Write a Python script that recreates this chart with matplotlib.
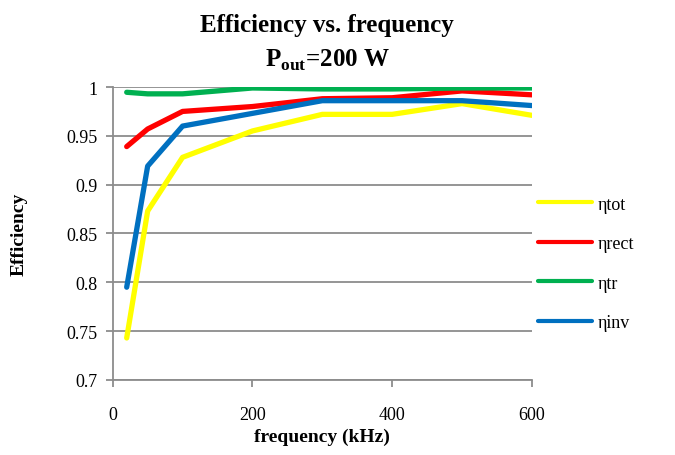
import matplotlib
matplotlib.use("Agg")
import matplotlib.pyplot as plt

# frequency points (kHz)
freq = [20, 50, 100, 200, 300, 400, 500, 600]

eta_tot = [0.743, 0.873, 0.928, 0.955, 0.972, 0.972, 0.983, 0.971]
eta_rect = [0.939, 0.957, 0.975, 0.980, 0.988, 0.989, 0.996, 0.992]
eta_tr = [0.9946, 0.993, 0.993, 0.999, 0.998, 0.998, 0.999, 0.999]
eta_inv = [0.795, 0.919, 0.960, 0.973, 0.986, 0.986, 0.986, 0.981]

labels = ["\u03b7tot", "\u03b7rect", "\u03b7tr", "\u03b7inv"]
colors = ["#FFFF00", "#FF0000", "#00B050", "#0070C0"]

plt.rcParams['font.family'] = ['Liberation Serif', 'DejaVu Serif']
plt.rcParams['mathtext.fontset'] = 'custom'
plt.rcParams['mathtext.rm'] = 'Liberation Serif'
plt.rcParams['mathtext.bf'] = 'Liberation Serif:bold'

fig = plt.figure(figsize=(6.75, 4.56), dpi=100)
ax = fig.add_axes([0.167, 0.1645, 0.621, 0.6425])

series = [eta_tot, eta_rect, eta_tr, eta_inv]
for vals, lab, col in zip(series, labels, colors):
    ax.plot(freq, vals, color=col, linewidth=3.8, label=lab, solid_capstyle='round')

ax.set_xlim(0, 600)
ax.set_ylim(0.7, 1.0)
ax.set_xticks([0, 200, 400, 600])
ax.set_yticks([0.7, 0.75, 0.8, 0.85, 0.9, 0.95, 1.0])
ax.set_yticklabels(["0.7", "0.75", "0.8", "0.85", "0.9", "0.95", "1"])
ax.yaxis.grid(True, color='#8c8c8c', linewidth=1.3)
ax.set_axisbelow(True)

for s in ['top', 'right']:
    ax.spines[s].set_visible(False)
for s in ['left', 'bottom']:
    ax.spines[s].set_color('#8c8c8c')
    ax.spines[s].set_linewidth(1.3)
ax.tick_params(axis='both', colors='#8c8c8c', length=5, width=1.3, labelsize=13,
               labelcolor='black')
ax.tick_params(axis='x', pad=14)
ax.tick_params(axis='y', pad=6)

ax.set_xlabel("frequency (kHz)", fontsize=14, fontweight='bold', labelpad=3)
ax.set_ylabel("Efficiency", fontsize=14, fontweight='bold', labelpad=28)

fig.text(0.485, 0.945, "Efficiency vs. frequency", ha='center', va='center',
         fontsize=18, fontweight='bold')
fig.text(0.485, 0.868, r"P$_{\mathbf{out}}$=200 W", ha='center', va='center',
         fontsize=18, fontweight='bold')

leg = ax.legend(loc='upper left', bbox_to_anchor=(0.975, 0.685), frameon=False,
                fontsize=13, handlelength=3.0, handletextpad=0.3, labelspacing=1.25)
for line in leg.get_lines():
    line.set_linewidth(3)

fig.savefig("out.png", dpi=100)
